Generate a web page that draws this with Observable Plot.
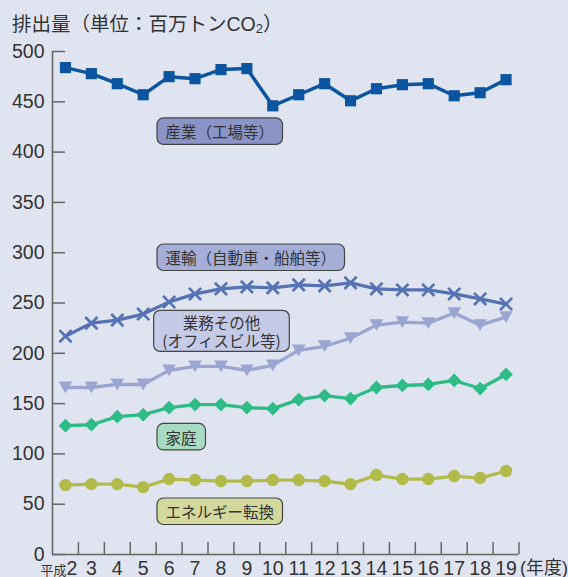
<!DOCTYPE html>
<html><head><meta charset="utf-8">
<script src="https://cdn.jsdelivr.net/npm/d3@7"></script>
<script src="https://cdn.jsdelivr.net/npm/@observablehq/plot@0.6"></script>
<style>
html,body{margin:0;padding:0;background:#e0e4f0;}
body{width:568px;height:577px;overflow:hidden;font-family:"Liberation Sans","Noto Sans CJK JP",sans-serif;}
#title{height:40px;box-sizing:border-box;padding:12px 0 0 12px;font-size:19.5px;line-height:24px;color:#333;white-space:nowrap;}
#title sub{font-size:13px;vertical-align:baseline;position:relative;top:2px;}
#chart svg{display:block;overflow:visible;}
</style></head><body>
<div id="title">排出量（単位：百万トンCO<sub>2</sub>）</div>
<div id="chart"></div>
<script>
// Fiscal years (平成)
const years = [2,3,4,5,6,7,8,9,10,11,12,13,14,15,16,17,18,19];
// Emissions, million t CO2
const industry    = [484,478,468,457,475,473,482,483,446,457,468,451,463,467,468,456,459,472];
const transport   = [217,230,233,239,251,259,264,266,265,268,267,270,264,263,263,259,254,249];
const commercial  = [166,166,169,169,183,187,187,183,188,203,207,215,228,231,230,240,228,236];
const residential = [128,129,137,139,146,149,149,146,145,154,158,155,166,168,169,173,165,179];
const energy      = [69,70,70,67,75,74,73,73,74,74,73,70,79,75,75,78,76,83];
const yTicks = [0,50,100,150,200,250,300,350,400,450,500];
const xDomain = [1.5, 19.5];
const xBounds = d3.range(2.5, 19.6, 1);

// Series labels (annotation text, anchor in data units)
const labelTexts = ["産業（工場等）","運輸（自動車・船舶等）","業務その他\n(オフィスビル等)","家庭","エネルギー転換"];
const labelX = [5.86, 5.86, 8.02, 5.86, 5.86];
const labelY = [419.5, 294.2, 221, 115.8, 41.7];
const labelAnchor = ["start","start","middle","start","start"];
const labelFill = ["#8a94c7","#a5aed7","#c5cae7","#a7dbc3","#d3d89c"];

const triDown = {draw(ctx, size){const r=Math.sqrt(size/Math.PI);const w=r*1.1,h=r*0.95;ctx.moveTo(-w,-h);ctx.lineTo(w,-h);ctx.lineTo(0,h);ctx.closePath();}};

const series = [
  {values: industry,    color:"#0a54a0", symbol:"square",   r:6.3, sw:3.5},
  {values: transport,   color:"#5572b5", symbol:"times",    r:5.6, sw:3.3, strokeSym:true},
  {values: commercial,  color:"#9aa5d1", symbol:triDown,    r:6.2, sw:3.3},
  {values: residential, color:"#2dbb86", symbol:"diamond2", r:6.2, sw:3.3},
  {values: energy,      color:"#b2bb4a", symbol:"circle",   r:6.2, sw:3.3}
];

const marks = [];
marks.push(Plot.ruleX([xDomain[0]], {stroke:"#666", strokeWidth:1.6}));
marks.push(Plot.ruleY([0], {stroke:"#666", strokeWidth:1.6}));
marks.push(Plot.axisY(yTicks, {tickSize:-13, tickFormat:()=>"", stroke:"#666", strokeWidth:1.5, label:null}));
marks.push(Plot.axisY(yTicks, {tickSize:0, tickPadding:8, fontSize:19.5, fill:"#333", label:null}));
marks.push(Plot.axisX(xBounds, {tickSize:-12, tickFormat:()=>"", stroke:"#666", strokeWidth:1.5, label:null}));
marks.push(Plot.axisX(years, {tickSize:0, tickPadding:7, fontSize:19.5, fill:"#333", tickFormat:d=>String(d), label:null}));
marks.push(Plot.text(["(年度)"], {x:()=>xDomain[1], frameAnchor:"bottom", dy:7, lineAnchor:"top", textAnchor:"start", fontSize:18, fill:"#333", dx:1}));

for (const s of series) {
  const rows = years.map((y,i)=>({year:y, value:s.values[i]}));
  marks.push(Plot.line(rows, {x:"year", y:"value", stroke:s.color, strokeWidth:s.sw}));
  if (s.strokeSym) marks.push(Plot.dot(rows, {x:"year", y:"value", symbol:s.symbol, r:s.r, stroke:s.color, strokeWidth:2.7, fill:"none"}));
  else marks.push(Plot.dot(rows, {x:"year", y:"value", symbol:s.symbol, r:s.r, fill:s.color, stroke:"none"}));
}

const labels = labelTexts.map((t,i)=>({text:t, x:labelX[i], y:labelY[i], anchor:labelAnchor[i]}));
for (const a of ["start","middle"]) {
  marks.push(Plot.text(labels.filter(d=>d.anchor===a), {x:"x", y:"y", text:"text", textAnchor:a, lineAnchor:"middle", lineHeight:1.15, fontSize:15.5, fill:"#333", fontFamily:"'Noto Sans CJK JP', sans-serif"}));
}

const svg = Plot.plot({
  width:568, height:537,
  marginLeft:52, marginRight:49.5, marginTop:11, marginBottom:23,
  x:{domain:xDomain, label:null},
  y:{domain:[0,500], label:null},
  style:{background:"transparent", fontFamily:"'Liberation Sans','Noto Sans CJK JP',sans-serif", color:"#333", overflow:"visible"},
  marks
});
document.getElementById("chart").appendChild(svg);

// label boxes
const labelTextEls = [];
d3.select(svg).selectAll("text").each(function(){
  const t = this.textContent;
  if (labelTexts.some(s=>s.replace(/\n/g,"")===t)) labelTextEls.push(this);
});
for (const el of labelTextEls) {
  const t = el.textContent;
  const i = labelTexts.findIndex(s=>s.replace(/\n/g,"")===t);
  const lines = labelTexts[i].split("\n").length;
  const bb = el.getBBox();
  const h = lines > 1 ? 41 : 26.5;
  const cy = bb.y + bb.height/2;
  const rect = document.createElementNS("http://www.w3.org/2000/svg","rect");
  rect.setAttribute("x", bb.x-8.5);
  rect.setAttribute("y", cy - h/2);
  rect.setAttribute("width", bb.width+17);
  rect.setAttribute("height", h);
  rect.setAttribute("rx", 6.5);
  rect.setAttribute("fill", labelFill[i]);
  rect.setAttribute("stroke", "#444");
  rect.setAttribute("stroke-width", 1.2);
  const tr = el.getAttribute("transform");
  if (tr) rect.setAttribute("transform", tr);
  el.parentNode.insertBefore(rect, el);
}

// first x label: 平成2
d3.select(svg).selectAll("text").filter(function(){return this.textContent==="2";}).each(function(){
  const el = d3.select(this);
  el.text("");
  el.attr("text-anchor","end").attr("dx",12);
  el.append("tspan").attr("font-size",13).attr("font-family","'Noto Sans CJK JP',sans-serif").text("平成");
  el.append("tspan").text("2");
});
</script>
</body></html>
